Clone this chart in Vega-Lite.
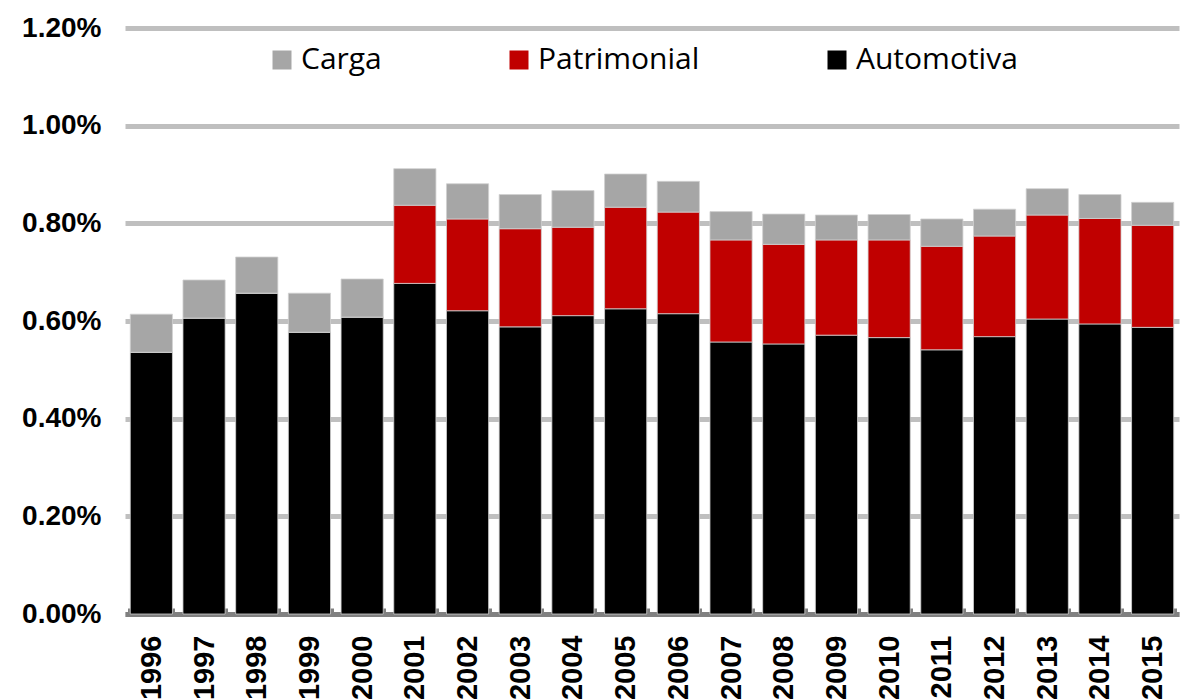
{
  "$schema": "https://vega.github.io/schema/vega-lite/v6.json",
  "width": 1054,
  "height": 586,
  "autosize": {"type": "none"},
  "padding": {"left": 125, "top": 28, "right": 1, "bottom": 85},
  "background": "white",
  "config": {"view": {"stroke": null}},
  "data": {
    "values": [
      {"ano": "1996", "serie": "Automotiva", "k": 1, "v": 0.00536},
      {"ano": "1996", "serie": "Patrimonial", "k": 2, "v": 0},
      {"ano": "1996", "serie": "Carga", "k": 3, "v": 0.00078},
      {"ano": "1997", "serie": "Automotiva", "k": 1, "v": 0.00606},
      {"ano": "1997", "serie": "Patrimonial", "k": 2, "v": 0},
      {"ano": "1997", "serie": "Carga", "k": 3, "v": 0.00078},
      {"ano": "1998", "serie": "Automotiva", "k": 1, "v": 0.00657},
      {"ano": "1998", "serie": "Patrimonial", "k": 2, "v": 0},
      {"ano": "1998", "serie": "Carga", "k": 3, "v": 0.00074},
      {"ano": "1999", "serie": "Automotiva", "k": 1, "v": 0.00577},
      {"ano": "1999", "serie": "Patrimonial", "k": 2, "v": 0},
      {"ano": "1999", "serie": "Carga", "k": 3, "v": 0.0008},
      {"ano": "2000", "serie": "Automotiva", "k": 1, "v": 0.00608},
      {"ano": "2000", "serie": "Patrimonial", "k": 2, "v": 0},
      {"ano": "2000", "serie": "Carga", "k": 3, "v": 0.00078},
      {"ano": "2001", "serie": "Automotiva", "k": 1, "v": 0.00677},
      {"ano": "2001", "serie": "Patrimonial", "k": 2, "v": 0.0016},
      {"ano": "2001", "serie": "Carga", "k": 3, "v": 0.00075},
      {"ano": "2002", "serie": "Automotiva", "k": 1, "v": 0.00621},
      {"ano": "2002", "serie": "Patrimonial", "k": 2, "v": 0.00188},
      {"ano": "2002", "serie": "Carga", "k": 3, "v": 0.00072},
      {"ano": "2003", "serie": "Automotiva", "k": 1, "v": 0.00588},
      {"ano": "2003", "serie": "Patrimonial", "k": 2, "v": 0.00201},
      {"ano": "2003", "serie": "Carga", "k": 3, "v": 0.0007},
      {"ano": "2004", "serie": "Automotiva", "k": 1, "v": 0.00611},
      {"ano": "2004", "serie": "Patrimonial", "k": 2, "v": 0.00181},
      {"ano": "2004", "serie": "Carga", "k": 3, "v": 0.00075},
      {"ano": "2005", "serie": "Automotiva", "k": 1, "v": 0.00625},
      {"ano": "2005", "serie": "Patrimonial", "k": 2, "v": 0.00208},
      {"ano": "2005", "serie": "Carga", "k": 3, "v": 0.00068},
      {"ano": "2006", "serie": "Automotiva", "k": 1, "v": 0.00615},
      {"ano": "2006", "serie": "Patrimonial", "k": 2, "v": 0.00208},
      {"ano": "2006", "serie": "Carga", "k": 3, "v": 0.00063},
      {"ano": "2007", "serie": "Automotiva", "k": 1, "v": 0.00557},
      {"ano": "2007", "serie": "Patrimonial", "k": 2, "v": 0.00209},
      {"ano": "2007", "serie": "Carga", "k": 3, "v": 0.00058},
      {"ano": "2008", "serie": "Automotiva", "k": 1, "v": 0.00553},
      {"ano": "2008", "serie": "Patrimonial", "k": 2, "v": 0.00204},
      {"ano": "2008", "serie": "Carga", "k": 3, "v": 0.00062},
      {"ano": "2009", "serie": "Automotiva", "k": 1, "v": 0.00571},
      {"ano": "2009", "serie": "Patrimonial", "k": 2, "v": 0.00195},
      {"ano": "2009", "serie": "Carga", "k": 3, "v": 0.00051},
      {"ano": "2010", "serie": "Automotiva", "k": 1, "v": 0.00566},
      {"ano": "2010", "serie": "Patrimonial", "k": 2, "v": 0.002},
      {"ano": "2010", "serie": "Carga", "k": 3, "v": 0.00052},
      {"ano": "2011", "serie": "Automotiva", "k": 1, "v": 0.00541},
      {"ano": "2011", "serie": "Patrimonial", "k": 2, "v": 0.00212},
      {"ano": "2011", "serie": "Carga", "k": 3, "v": 0.00056},
      {"ano": "2012", "serie": "Automotiva", "k": 1, "v": 0.00568},
      {"ano": "2012", "serie": "Patrimonial", "k": 2, "v": 0.00206},
      {"ano": "2012", "serie": "Carga", "k": 3, "v": 0.00055},
      {"ano": "2013", "serie": "Automotiva", "k": 1, "v": 0.00604},
      {"ano": "2013", "serie": "Patrimonial", "k": 2, "v": 0.00213},
      {"ano": "2013", "serie": "Carga", "k": 3, "v": 0.00054},
      {"ano": "2014", "serie": "Automotiva", "k": 1, "v": 0.00594},
      {"ano": "2014", "serie": "Patrimonial", "k": 2, "v": 0.00216},
      {"ano": "2014", "serie": "Carga", "k": 3, "v": 0.00049},
      {"ano": "2015", "serie": "Automotiva", "k": 1, "v": 0.00587},
      {"ano": "2015", "serie": "Patrimonial", "k": 2, "v": 0.00209},
      {"ano": "2015", "serie": "Carga", "k": 3, "v": 0.00047}
    ]
  },
  "mark": {"type": "bar", "stroke": "#d0d0d0", "strokeWidth": 0.8},
  "encoding": {
    "x": {
      "field": "ano",
      "type": "ordinal",
      "title": null,
      "scale": {"paddingInner": 0.2, "paddingOuter": 0.1},
      "axis": {
        "labelAngle": -90,
        "labelAlign": "right",
        "labelBaseline": "middle",
        "labelFont": "Liberation Sans",
        "labelFontWeight": "bold",
        "labelFontSize": 29,
        "labelColor": "#000000",
        "labelPadding": 27,
        "labelOverlap": false,
        "domainColor": "#808080",
        "domainWidth": 5,
        "tickColor": "#808080",
        "tickWidth": 5,
        "tickSize": -6,
        "tickBand": "extent",
        "grid": false
      }
    },
    "y": {
      "field": "v",
      "type": "quantitative",
      "title": null,
      "stack": "zero",
      "scale": {"domain": [0, 0.012], "nice": false},
      "axis": {
        "values": [0, 0.002, 0.004, 0.006, 0.008, 0.01, 0.012],
        "format": ".2%",
        "labelFont": "Liberation Sans",
        "labelFontWeight": "bold",
        "labelFontSize": 28,
        "labelColor": "#000000",
        "labelPadding": 24,
        "domain": false,
        "ticks": false,
        "grid": true,
        "gridColor": "#bfbfbf",
        "gridWidth": 5
      }
    },
    "color": {
      "field": "serie",
      "type": "nominal",
      "scale": {
        "domain": ["Carga", "Patrimonial", "Automotiva"],
        "range": ["#a6a6a6", "#c00000", "#000000"]
      },
      "legend": {
        "title": null,
        "orient": "none",
        "legendX": 142,
        "legendY": 17,
        "direction": "horizontal",
        "columns": 3,
        "columnPadding": 122,
        "symbolType": "square",
        "symbolSize": 361,
        "symbolStrokeWidth": 0,
        "labelFont": "Open Sans",
        "labelFontSize": 30,
        "labelColor": "#000000",
        "labelOffset": 4,
        "labelLimit": 300
      }
    },
    "order": {"field": "k", "type": "quantitative", "sort": "ascending"}
  }
}
